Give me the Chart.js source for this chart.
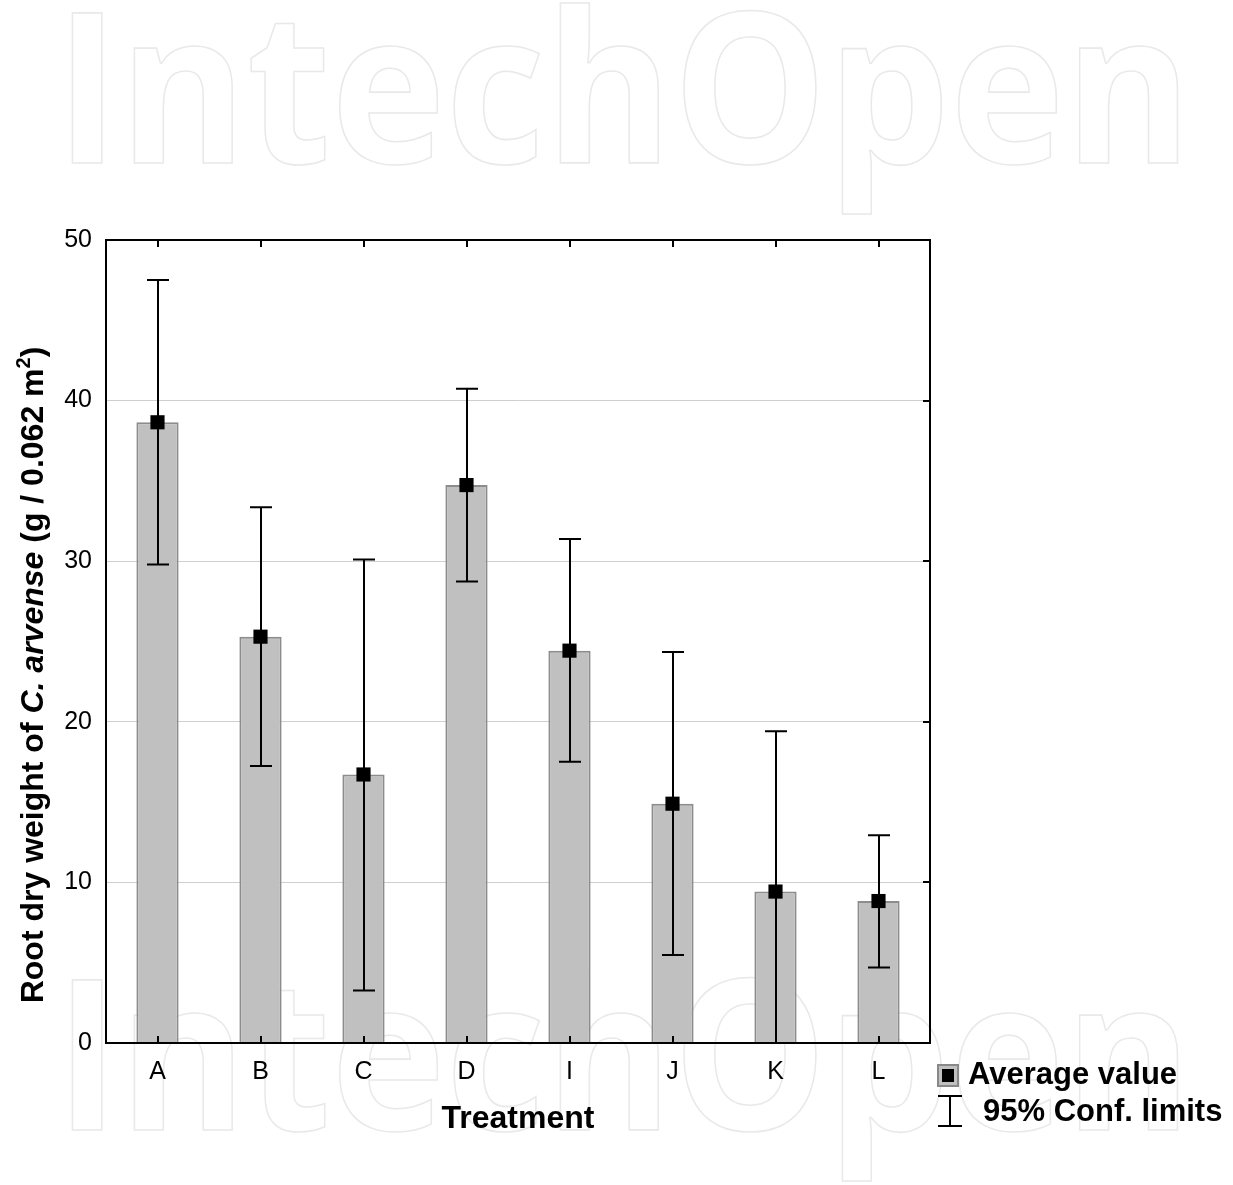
<!DOCTYPE html>
<html>
<head>
<meta charset="utf-8">
<script src="https://cdn.jsdelivr.net/npm/chart.js@4.4.0/dist/chart.umd.min.js"></script>
<style>
  html, body { margin: 0; padding: 0; background: #ffffff; }
  #wrap { width: 1233px; height: 1185px; position: relative; }
</style>
</head>
<body>
<div id="wrap"><canvas id="c" width="1233" height="1185"></canvas></div>
<script>
// ---- data ----
const categories = ['A', 'B', 'C', 'D', 'I', 'J', 'K', 'L'];
const meanValues = [38.65, 25.3, 16.72, 34.74, 24.43, 14.9, 9.43, 8.84];
const lowerLimits = [29.8, 17.25, 3.27, 28.73, 17.52, 5.48, 0, 4.7];
const upperLimits = [47.51, 33.36, 30.1, 40.74, 31.38, 24.34, 19.41, 12.94];
const yTicks = [0, 10, 20, 30, 40, 50];
const yAxisTitleParts = [
  { text: 'Root dry weight of ', italic: false },
  { text: 'C. arvense', italic: true },
  { text: ' (g / 0.062 m', italic: false },
  { text: '2', italic: false, sup: true },
  { text: ')', italic: false }
];
const xAxisTitle = 'Treatment';
const legendLabels = ['Average value', '95% Conf. limits'];
const watermarkText = 'IntechOpen';

const FONT = '"Liberation Sans", Arial, Helvetica, sans-serif';

const framePlugin = {
  id: 'framePlugin',
  beforeDraw(chart) {
    // faint outlined watermark behind everything
    const ctx = chart.ctx;
    ctx.save();
    ctx.strokeStyle = '#e9e9e9';
    ctx.font = 'bold 210px "Open Sans", ' + FONT;
    ctx.textAlign = 'left';
    ctx.textBaseline = 'alphabetic';
    const ww = ctx.measureText(watermarkText).width;
    const sx = (1192 - 55) / ww;
    [[55, 163], [55, 1130]].forEach(([wx, wy]) => {
      ctx.save();
      ctx.translate(wx, wy);
      ctx.scale(sx, 1);
      ctx.lineWidth = 1.6;
      ctx.strokeText(watermarkText, 0, 0);
      ctx.restore();
    });
    ctx.restore();
  },
  afterDatasetDraw(chart, args) {
    if (args.index !== 0) return;
    // error bars after bars, before markers
    const ctx = chart.ctx;
    const xs = chart.scales.x, ys = chart.scales.y;
    const area = chart.chartArea;
    ctx.save();
    ctx.beginPath();
    ctx.rect(area.left, area.top - 2, area.right - area.left, area.bottom - area.top + 2);
    ctx.clip();
    ctx.strokeStyle = '#000';
    ctx.lineWidth = 2;
    categories.forEach((c, i) => {
      const x = Math.round(xs.getPixelForValue(i));
      const yl = ys.getPixelForValue(lowerLimits[i]);
      const yu = ys.getPixelForValue(upperLimits[i]);
      ctx.beginPath();
      ctx.moveTo(x, yl); ctx.lineTo(x, yu);
      ctx.moveTo(x - 11, yu); ctx.lineTo(x + 11, yu);
      ctx.moveTo(x - 11, yl); ctx.lineTo(x + 11, yl);
      ctx.stroke();
    });
    ctx.restore();
  },
  afterDraw(chart) {
    const ctx = chart.ctx;
    const xs = chart.scales.x, ys = chart.scales.y;
    const a = chart.chartArea;
    ctx.save();
    // frame
    ctx.strokeStyle = '#000';
    ctx.lineWidth = 2;
    ctx.strokeRect(a.left, a.top, a.right - a.left, a.bottom - a.top);
    // inward ticks
    ctx.beginPath();
    categories.forEach((c, i) => {
      const x = Math.round(xs.getPixelForValue(i));
      ctx.moveTo(x, a.top); ctx.lineTo(x, a.top + 7);
      ctx.moveTo(x, a.bottom); ctx.lineTo(x, a.bottom - 7);
    });
    yTicks.forEach(v => {
      const y = Math.round(ys.getPixelForValue(v));
      ctx.moveTo(a.right, y); ctx.lineTo(a.right - 7, y);
    });
    ctx.stroke();

    // x axis title
    ctx.fillStyle = '#000';
    ctx.font = 'bold 32px ' + FONT;
    ctx.textAlign = 'center';
    ctx.textBaseline = 'alphabetic';
    ctx.fillText(xAxisTitle, (a.left + a.right) / 2, 1128);

    // y axis title (rotated, mixed styles)
    const fontN = 'bold 32px ' + FONT;
    const fontI = 'italic bold 32px ' + FONT;
    const fontS = 'bold 20px ' + FONT;
    let total = 0;
    const widths = yAxisTitleParts.map(p => {
      ctx.font = p.sup ? fontS : (p.italic ? fontI : fontN);
      const w = ctx.measureText(p.text).width;
      total += w;
      return w;
    });
    ctx.translate(43, 675);
    ctx.rotate(-Math.PI / 2);
    ctx.textAlign = 'left';
    let px = -total / 2;
    yAxisTitleParts.forEach((p, i) => {
      ctx.font = p.sup ? fontS : (p.italic ? fontI : fontN);
      ctx.fillText(p.text, px, p.sup ? -13 : 0);
      px += widths[i];
    });
    ctx.setTransform(1, 0, 0, 1, 0, 0);

    // legend
    ctx.fillStyle = '#c0c0c0';
    ctx.fillRect(938, 1065, 20, 21);
    ctx.strokeStyle = '#888';
    ctx.lineWidth = 2;
    ctx.strokeRect(938, 1065, 20, 21);
    ctx.fillStyle = '#000';
    ctx.fillRect(942, 1069, 12, 13);
    ctx.font = 'bold 31px ' + FONT;
    ctx.textAlign = 'left';
    ctx.fillText(legendLabels[0], 968, 1084);
    ctx.fillText(legendLabels[1], 983, 1121);
    ctx.strokeStyle = '#000';
    ctx.lineWidth = 2;
    ctx.beginPath();
    ctx.moveTo(950, 1096); ctx.lineTo(950, 1126);
    ctx.moveTo(938, 1096); ctx.lineTo(962, 1096);
    ctx.moveTo(938, 1126); ctx.lineTo(962, 1126);
    ctx.stroke();
    ctx.restore();
  }
};

new Chart(document.getElementById('c'), {
  data: {
    labels: categories,
    datasets: [
      {
        type: 'bar',
        data: meanValues,
        backgroundColor: '#c0c0c0',
        borderColor: '#8c8c8c',
        borderWidth: 2,
        borderSkipped: 'bottom',
        barPercentage: 0.41,
        categoryPercentage: 1.0,
        order: 2
      },
      {
        type: 'line',
        data: meanValues,
        showLine: false,
        pointStyle: 'rect',
        pointRadius: 10,
        pointBackgroundColor: '#000',
        pointBorderColor: '#000',
        pointBorderWidth: 0,
        order: 1
      }
    ]
  },
  options: {
    responsive: false,
    animation: false,
    devicePixelRatio: 1,
    layout: { padding: { left: 60, top: 240, right: 303, bottom: 82 } },
    plugins: { legend: { display: false }, tooltip: { enabled: false } },
    scales: {
      x: {
        type: 'category',
        offset: true,
        grid: { display: false, drawTicks: false },
        border: { display: true, color: '#000', width: 2 },
        ticks: { color: '#000', font: { family: FONT, size: 25 }, padding: 14 },
        afterFit(s) { s.height = 60; }
      },
      y: {
        min: 0, max: 50,
        grid: { color: '#cfcfcf', lineWidth: 1, drawTicks: false },
        border: { display: true, color: '#000', width: 2 },
        ticks: {
          stepSize: 10, color: '#000', padding: 14,
          font: { family: FONT, size: 25 },
          callback: (v) => yTicks.includes(v) ? String(v) : ''
        },
        afterFit(s) { s.width = 46; }
      }
    }
  },
  plugins: [framePlugin]
});
</script>
</body>
</html>
